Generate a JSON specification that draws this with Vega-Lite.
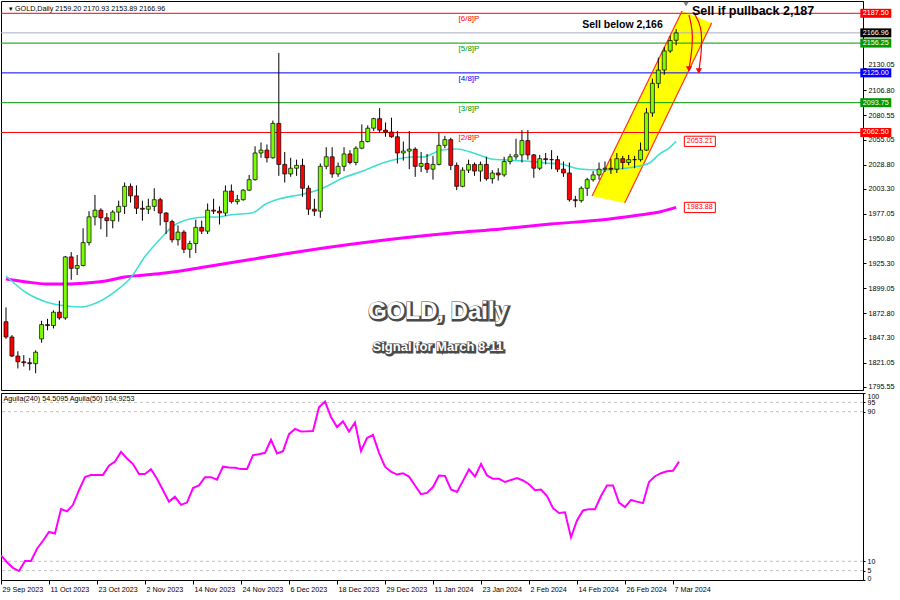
{
"$schema":"https://vega.github.io/schema/vega-lite/v6.json",
"padding":0,
"background":"white",
"spacing":3,
"bounds":"flush",
"config":{"view":{"stroke":"#000000","strokeWidth":1},"font":"Liberation Sans","axis":{"grid":false,"labelOverlap":false}},
"datasets":{
"ohlc":[
{"d":"2023-09-29","t":0,"o":1864,"h":1879,"l":1846,"c":1848},
{"d":"2023-10-02","t":1,"o":1848,"h":1850,"l":1827,"c":1828},
{"d":"2023-10-03","t":2,"o":1828,"h":1833,"l":1815,"c":1822},
{"d":"2023-10-04","t":3,"o":1822,"h":1829,"l":1817,"c":1821},
{"d":"2023-10-05","t":4,"o":1821,"h":1826,"l":1813,"c":1820},
{"d":"2023-10-06","t":5,"o":1820,"h":1834,"l":1810,"c":1832},
{"d":"2023-10-09","t":6,"o":1846,"h":1865,"l":1842,"c":1861},
{"d":"2023-10-10","t":7,"o":1861,"h":1867,"l":1855,"c":1860},
{"d":"2023-10-11","t":8,"o":1860,"h":1876,"l":1857,"c":1874},
{"d":"2023-10-12","t":9,"o":1874,"h":1886,"l":1866,"c":1868},
{"d":"2023-10-13","t":10,"o":1868,"h":1933,"l":1866,"c":1932},
{"d":"2023-10-16","t":11,"o":1932,"h":1937,"l":1908,"c":1920},
{"d":"2023-10-17","t":12,"o":1920,"h":1934,"l":1913,"c":1923},
{"d":"2023-10-18","t":13,"o":1923,"h":1962,"l":1922,"c":1947},
{"d":"2023-10-19","t":14,"o":1947,"h":1980,"l":1944,"c":1974},
{"d":"2023-10-20","t":15,"o":1974,"h":1997,"l":1965,"c":1981},
{"d":"2023-10-23","t":16,"o":1981,"h":1983,"l":1961,"c":1973},
{"d":"2023-10-24","t":17,"o":1973,"h":1978,"l":1953,"c":1970},
{"d":"2023-10-25","t":18,"o":1970,"h":1981,"l":1962,"c":1979},
{"d":"2023-10-26","t":19,"o":1979,"h":1991,"l":1969,"c":1985},
{"d":"2023-10-27","t":20,"o":1985,"h":2010,"l":1977,"c":2006},
{"d":"2023-10-30","t":21,"o":2006,"h":2009,"l":1989,"c":1996},
{"d":"2023-10-31","t":22,"o":1996,"h":2007,"l":1977,"c":1983},
{"d":"2023-11-01","t":23,"o":1983,"h":1991,"l":1970,"c":1982},
{"d":"2023-11-02","t":24,"o":1982,"h":1993,"l":1977,"c":1985},
{"d":"2023-11-03","t":25,"o":1985,"h":2004,"l":1980,"c":1992},
{"d":"2023-11-06","t":26,"o":1992,"h":1994,"l":1965,"c":1978},
{"d":"2023-11-07","t":27,"o":1978,"h":1979,"l":1956,"c":1969},
{"d":"2023-11-08","t":28,"o":1969,"h":1971,"l":1947,"c":1950},
{"d":"2023-11-09","t":29,"o":1950,"h":1965,"l":1944,"c":1958},
{"d":"2023-11-10","t":30,"o":1958,"h":1960,"l":1936,"c":1940},
{"d":"2023-11-13","t":31,"o":1940,"h":1949,"l":1931,"c":1946},
{"d":"2023-11-14","t":32,"o":1946,"h":1971,"l":1936,"c":1963},
{"d":"2023-11-15","t":33,"o":1963,"h":1970,"l":1956,"c":1959},
{"d":"2023-11-16","t":34,"o":1959,"h":1988,"l":1956,"c":1981},
{"d":"2023-11-17","t":35,"o":1981,"h":1993,"l":1977,"c":1980},
{"d":"2023-11-20","t":36,"o":1980,"h":1985,"l":1966,"c":1978},
{"d":"2023-11-21","t":37,"o":1978,"h":2007,"l":1975,"c":2001},
{"d":"2023-11-22","t":38,"o":2001,"h":2008,"l":1988,"c":1990},
{"d":"2023-11-23","t":39,"o":1990,"h":1997,"l":1987,"c":1992},
{"d":"2023-11-24","t":40,"o":1992,"h":2003,"l":1991,"c":2002},
{"d":"2023-11-27","t":41,"o":2002,"h":2018,"l":2001,"c":2013},
{"d":"2023-11-28","t":42,"o":2013,"h":2048,"l":2012,"c":2041},
{"d":"2023-11-29","t":43,"o":2041,"h":2052,"l":2036,"c":2044},
{"d":"2023-11-30","t":44,"o":2044,"h":2050,"l":2031,"c":2036},
{"d":"2023-12-01","t":45,"o":2036,"h":2075,"l":2035,"c":2072},
{"d":"2023-12-04","t":46,"o":2072,"h":2146,"l":2017,"c":2029},
{"d":"2023-12-05","t":47,"o":2029,"h":2042,"l":2010,"c":2019},
{"d":"2023-12-06","t":48,"o":2019,"h":2036,"l":2016,"c":2025},
{"d":"2023-12-07","t":49,"o":2025,"h":2034,"l":2017,"c":2028},
{"d":"2023-12-08","t":50,"o":2028,"h":2035,"l":1995,"c":2004},
{"d":"2023-12-11","t":51,"o":2004,"h":2007,"l":1976,"c":1982},
{"d":"2023-12-12","t":52,"o":1982,"h":1993,"l":1975,"c":1980},
{"d":"2023-12-13","t":53,"o":1980,"h":2030,"l":1973,"c":2027},
{"d":"2023-12-14","t":54,"o":2027,"h":2047,"l":2024,"c":2037},
{"d":"2023-12-15","t":55,"o":2037,"h":2047,"l":2015,"c":2019},
{"d":"2023-12-18","t":56,"o":2019,"h":2031,"l":2016,"c":2027},
{"d":"2023-12-19","t":57,"o":2027,"h":2047,"l":2022,"c":2040},
{"d":"2023-12-20","t":58,"o":2040,"h":2044,"l":2029,"c":2031},
{"d":"2023-12-21","t":59,"o":2031,"h":2048,"l":2028,"c":2046},
{"d":"2023-12-22","t":60,"o":2046,"h":2071,"l":2045,"c":2053},
{"d":"2023-12-26","t":61,"o":2053,"h":2070,"l":2052,"c":2067},
{"d":"2023-12-27","t":62,"o":2067,"h":2078,"l":2064,"c":2077},
{"d":"2023-12-28","t":63,"o":2077,"h":2088,"l":2062,"c":2065},
{"d":"2023-12-29","t":64,"o":2065,"h":2073,"l":2058,"c":2063},
{"d":"2024-01-02","t":65,"o":2063,"h":2078,"l":2057,"c":2058},
{"d":"2024-01-03","t":66,"o":2058,"h":2064,"l":2030,"c":2041},
{"d":"2024-01-04","t":67,"o":2041,"h":2053,"l":2033,"c":2043},
{"d":"2024-01-05","t":68,"o":2043,"h":2064,"l":2024,"c":2045},
{"d":"2024-01-08","t":69,"o":2045,"h":2047,"l":2016,"c":2027},
{"d":"2024-01-09","t":70,"o":2027,"h":2042,"l":2021,"c":2030},
{"d":"2024-01-10","t":71,"o":2030,"h":2040,"l":2020,"c":2024},
{"d":"2024-01-11","t":72,"o":2024,"h":2038,"l":2013,"c":2029},
{"d":"2024-01-12","t":73,"o":2029,"h":2062,"l":2028,"c":2049},
{"d":"2024-01-15","t":74,"o":2049,"h":2059,"l":2046,"c":2055},
{"d":"2024-01-16","t":75,"o":2055,"h":2057,"l":2023,"c":2028},
{"d":"2024-01-17","t":76,"o":2028,"h":2031,"l":2002,"c":2006},
{"d":"2024-01-18","t":77,"o":2006,"h":2026,"l":2005,"c":2023},
{"d":"2024-01-19","t":78,"o":2023,"h":2034,"l":2020,"c":2029},
{"d":"2024-01-22","t":79,"o":2029,"h":2031,"l":2017,"c":2022},
{"d":"2024-01-23","t":80,"o":2022,"h":2032,"l":2011,"c":2029},
{"d":"2024-01-24","t":81,"o":2029,"h":2037,"l":2012,"c":2014},
{"d":"2024-01-25","t":82,"o":2014,"h":2023,"l":2009,"c":2020},
{"d":"2024-01-26","t":83,"o":2020,"h":2025,"l":2012,"c":2018},
{"d":"2024-01-29","t":84,"o":2018,"h":2037,"l":2016,"c":2032},
{"d":"2024-01-30","t":85,"o":2032,"h":2040,"l":2029,"c":2037},
{"d":"2024-01-31","t":86,"o":2037,"h":2056,"l":2034,"c":2039},
{"d":"2024-02-01","t":87,"o":2039,"h":2065,"l":2031,"c":2054},
{"d":"2024-02-02","t":88,"o":2054,"h":2065,"l":2034,"c":2039},
{"d":"2024-02-05","t":89,"o":2039,"h":2040,"l":2015,"c":2025},
{"d":"2024-02-06","t":90,"o":2025,"h":2039,"l":2023,"c":2035},
{"d":"2024-02-07","t":91,"o":2035,"h":2041,"l":2029,"c":2034},
{"d":"2024-02-08","t":92,"o":2034,"h":2044,"l":2024,"c":2034},
{"d":"2024-02-09","t":93,"o":2034,"h":2038,"l":2021,"c":2024},
{"d":"2024-02-12","t":94,"o":2024,"h":2032,"l":2016,"c":2020},
{"d":"2024-02-13","t":95,"o":2020,"h":2031,"l":1990,"c":1992},
{"d":"2024-02-14","t":96,"o":1992,"h":1996,"l":1984,"c":1991},
{"d":"2024-02-15","t":97,"o":1991,"h":2006,"l":1989,"c":2004},
{"d":"2024-02-16","t":98,"o":2004,"h":2015,"l":1996,"c":2013},
{"d":"2024-02-19","t":99,"o":2013,"h":2022,"l":2011,"c":2018},
{"d":"2024-02-20","t":100,"o":2018,"h":2031,"l":2013,"c":2024},
{"d":"2024-02-21","t":101,"o":2024,"h":2032,"l":2021,"c":2025},
{"d":"2024-02-22","t":102,"o":2025,"h":2035,"l":2019,"c":2024},
{"d":"2024-02-23","t":103,"o":2024,"h":2041,"l":2020,"c":2035},
{"d":"2024-02-26","t":104,"o":2035,"h":2038,"l":2024,"c":2031},
{"d":"2024-02-27","t":105,"o":2031,"h":2039,"l":2028,"c":2034},
{"d":"2024-02-28","t":106,"o":2034,"h":2038,"l":2025,"c":2034},
{"d":"2024-02-29","t":107,"o":2034,"h":2052,"l":2032,"c":2044},
{"d":"2024-03-01","t":108,"o":2044,"h":2088,"l":2043,"c":2083},
{"d":"2024-03-04","t":109,"o":2083,"h":2119,"l":2079,"c":2114},
{"d":"2024-03-05","t":110,"o":2114,"h":2141,"l":2109,"c":2128},
{"d":"2024-03-06","t":111,"o":2128,"h":2152,"l":2123,"c":2148},
{"d":"2024-03-07","t":112,"o":2148,"h":2164,"l":2146,"c":2159},
{"d":"2024-03-08","t":113,"o":2159.2,"h":2170.93,"l":2153.89,"c":2166.96}
],
"ma20":[{"t":0,"p":1912.0},{"t":3.5,"p":1894.1},{"t":6.8,"p":1884.7},{"t":10.2,"p":1880.5},{"t":12.7,"p":1879.5},{"t":15.2,"p":1883.7},{"t":18.5,"p":1896.2},{"t":21,"p":1909.9},{"t":23.5,"p":1932.9},{"t":26,"p":1950.8},{"t":28.2,"p":1964.4},{"t":31,"p":1971.8},{"t":33.8,"p":1973.9},{"t":36,"p":1973.9},{"t":37.7,"p":1976.0},{"t":41.5,"p":1978.1},{"t":43.8,"p":1987.5},{"t":46,"p":1992.7},{"t":50.2,"p":1998.0},{"t":53.5,"p":2004.3},{"t":56.8,"p":2014.8},{"t":60.2,"p":2022.1},{"t":63.5,"p":2030.5},{"t":66,"p":2034.7},{"t":68.5,"p":2036.8},{"t":70.2,"p":2036.8},{"t":73.5,"p":2044.1},{"t":76,"p":2045.2},{"t":79.3,"p":2039.9},{"t":81.8,"p":2034.7},{"t":84.3,"p":2033.6},{"t":87.7,"p":2032.6},{"t":91,"p":2030.5},{"t":93.5,"p":2029.4},{"t":96.8,"p":2024.2},{"t":100.2,"p":2023.2},{"t":103.5,"p":2024.2},{"t":106.8,"p":2027.3},{"t":108.5,"p":2030.5},{"t":110.2,"p":2039.9},{"t":111.8,"p":2046.2},{"t":113,"p":2053.2}],
"ma200":[{"t":0,"p":1908.8},{"t":3.5,"p":1905.7},{"t":6.8,"p":1903.6},{"t":10,"p":1903.6},{"t":13.5,"p":1904.6},{"t":16.8,"p":1906.7},{"t":20,"p":1910.9},{"t":23.5,"p":1913.0},{"t":26.8,"p":1915.1},{"t":33.5,"p":1921.4},{"t":41.8,"p":1929.8},{"t":50.2,"p":1938.2},{"t":58.5,"p":1945.5},{"t":66.8,"p":1951.8},{"t":75.2,"p":1957.1},{"t":83.5,"p":1961.3},{"t":91.8,"p":1966.5},{"t":100.2,"p":1970.7},{"t":106.8,"p":1976.0},{"t":110.2,"p":1979.1},{"t":113,"p":1983.9}],
"osc":[{"t":0,"v":13.2},{"t":1,"v":9.5},{"t":2,"v":6.5},{"t":3,"v":4.8},{"t":4,"v":10.2},{"t":5,"v":10.2},{"t":6,"v":16.7},{"t":7,"v":21.0},{"t":8,"v":25.7},{"t":9,"v":24.9},{"t":10,"v":37.9},{"t":11,"v":36.7},{"t":12,"v":40.2},{"t":13,"v":48.0},{"t":14,"v":55.0},{"t":15,"v":56.2},{"t":16,"v":56.2},{"t":17,"v":56.2},{"t":18,"v":61.1},{"t":19,"v":63.3},{"t":20,"v":68.5},{"t":21,"v":65.0},{"t":22,"v":62.0},{"t":23,"v":56.7},{"t":24,"v":56.7},{"t":25,"v":59.2},{"t":26,"v":54.1},{"t":27,"v":48.0},{"t":28,"v":41.9},{"t":29,"v":44.5},{"t":30,"v":40.2},{"t":31,"v":41.4},{"t":32,"v":49.2},{"t":33,"v":50.6},{"t":34,"v":55.0},{"t":35,"v":55.0},{"t":36,"v":53.6},{"t":37,"v":60.6},{"t":38,"v":60.2},{"t":39,"v":60.0},{"t":40,"v":59.3},{"t":41,"v":59.3},{"t":42,"v":66.8},{"t":43,"v":67.2},{"t":44,"v":68.0},{"t":45,"v":75.0},{"t":46,"v":67.7},{"t":47,"v":68.9},{"t":48,"v":78.0},{"t":49,"v":80.8},{"t":50,"v":79.4},{"t":51,"v":79.5},{"t":52,"v":79.7},{"t":53,"v":92.4},{"t":54,"v":95.4},{"t":55,"v":87.2},{"t":56,"v":81.8},{"t":57,"v":84.9},{"t":58,"v":79.4},{"t":59,"v":84.2},{"t":60,"v":68.9},{"t":61,"v":75.9},{"t":62,"v":77.6},{"t":63,"v":68.0},{"t":64,"v":60.6},{"t":65,"v":57.9},{"t":66,"v":56.4},{"t":67,"v":57.1},{"t":68,"v":55.3},{"t":69,"v":50.5},{"t":70,"v":45.9},{"t":71,"v":46.6},{"t":72,"v":49.7},{"t":73,"v":55.9},{"t":74,"v":55.7},{"t":75,"v":48.4},{"t":76,"v":47.1},{"t":77,"v":53.0},{"t":78,"v":59.2},{"t":79,"v":55.3},{"t":80,"v":62.0},{"t":81,"v":55.9},{"t":82,"v":54.1},{"t":83,"v":54.1},{"t":84,"v":52.4},{"t":85,"v":53.5},{"t":86,"v":54.5},{"t":87,"v":53.2},{"t":88,"v":51.2},{"t":89,"v":48.0},{"t":90,"v":48.4},{"t":91,"v":44.9},{"t":92,"v":38.4},{"t":93,"v":35.8},{"t":94,"v":36.2},{"t":95,"v":22.8},{"t":96,"v":31.8},{"t":97,"v":37.2},{"t":98,"v":37.9},{"t":99,"v":37.9},{"t":100,"v":44.9},{"t":101,"v":50.6},{"t":102,"v":50.6},{"t":103,"v":41.4},{"t":104,"v":39.0},{"t":105,"v":42.8},{"t":106,"v":41.9},{"t":107,"v":41.1},{"t":108,"v":52.4},{"t":109,"v":55.5},{"t":110,"v":57.1},{"t":111,"v":58.1},{"t":112,"v":58.4},{"t":113,"v":63.3}],
"levels":[
{"p":2187.5,"lab":"[6/8]P","box":"2187.50","lk":"red","bk":"red"},
{"p":2166.96,"lab":"","box":"2166.96","lk":"grey","bk":"black"},
{"p":2156.25,"lab":"[5/8]P","box":"2156.25","lk":"green","bk":"green"},
{"p":2125.0,"lab":"[4/8]P","box":"2125.00","lk":"blue","bk":"blue"},
{"p":2093.75,"lab":"[3/8]P","box":"2093.75","lk":"green","bk":"green"},
{"p":2062.5,"lab":"[2/8]P","box":"2062.50","lk":"red","bk":"red"}
],
"channel":[{"t":98.83,"top":1995.9,"bot":1995.9},{"t":104.33,"top":2066.3,"bot":1988.5},{"t":114.0,"top":2189.9,"bot":2112.9},{"t":119.0,"top":2177.3,"bot":2177.3}],
"chlines":[{"a":"L","t":98.83,"p":1995.9},{"a":"L","t":114.0,"p":2189.9},{"a":"R","t":104.33,"p":1988.5},{"a":"R","t":119.0,"p":2177.3}],
"arrows":[{"a":1,"k":1,"t":115.17,"p":2185.7},{"a":1,"k":2,"t":115.83,"p":2169.0},{"a":1,"k":3,"t":115.67,"p":2148.0},{"a":1,"k":4,"t":115.17,"p":2129.1},{"a":2,"k":1,"t":116.0,"p":2187.8},{"a":2,"k":2,"t":117.33,"p":2174.2},{"a":2,"k":3,"t":117.33,"p":2148.0},{"a":2,"k":4,"t":116.83,"p":2127.0}],
"malabels":[{"p":2053.21,"txt":"2053.21"},{"p":1983.88,"txt":"1983.88"}]
},
"vconcat":[
{
"width":862,"height":389,
"layer":[
{"data":{"name":"channel"},"mark":{"type":"area","color":"#FFFF00","clip":true},
 "encoding":{"x":{"field":"t","type":"quantitative","scale":{"domain":[0,143.667],"nice":false,"zero":false},"axis":null},
  "y":{"field":"top","type":"quantitative","scale":{"domain":[1792.4,2200.4],"nice":false,"zero":false},
   "axis":{"orient":"right","values":[1795.55,1821.05,1847.3,1872.8,1899.05,1925.3,1950.8,1977.05,2003.3,2028.8,2055.05,2080.55,2106.8,2130.05],"tickCount":100,"format":".2f","title":null,"tickSize":3,"labelPadding":2,"labelFontSize":7.2,"labelFont":"Liberation Sans","labelColor":"#000","domainColor":"#000","tickColor":"#000","grid":false,"labelOverlap":false,"labelBound":false,"labelFlush":false,
    "labelOffset":{"condition":{"test":"datum.value > 2129","value":-4},"value":0}}},
  "y2":{"field":"bot"}}},
{"data":{"name":"levels"},"mark":{"type":"rule","strokeWidth":1},
 "encoding":{"y":{"field":"p","type":"quantitative"},
  "color":{"field":"lk","type":"nominal","scale":{"domain":["red","green","blue","black","grey"],"range":["#FF0000","#009900","#0000FF","#000000","#A8AEC0"]},"legend":null}}},
{"data":{"name":"chlines"},"mark":{"type":"line","color":"#FF3020","strokeWidth":1.2,"clip":true},
 "encoding":{"x":{"field":"t","type":"quantitative","axis":null},"y":{"field":"p","type":"quantitative"},"detail":{"field":"a"}}},
{"data":{"name":"ma200"},"mark":{"type":"line","color":"#FF00FF","strokeWidth":3,"clip":true,"interpolate":"monotone"},
 "encoding":{"x":{"field":"t","type":"quantitative","axis":null},"y":{"field":"p","type":"quantitative"}}},
{"data":{"name":"ma20"},"mark":{"type":"line","color":"#40E0D0","strokeWidth":1.6,"clip":true,"interpolate":"monotone"},
 "encoding":{"x":{"field":"t","type":"quantitative","axis":null},"y":{"field":"p","type":"quantitative"}}},
{"data":{"name":"ohlc"},"mark":{"type":"rule","color":"#000000","strokeWidth":1,"clip":true},
 "encoding":{"x":{"field":"t","type":"quantitative","axis":null},"y":{"field":"l","type":"quantitative"},"y2":{"field":"h"}}},
{"data":{"name":"ohlc"},"mark":{"type":"bar","size":4,"stroke":"#000000","strokeWidth":0.7,"clip":true},
 "encoding":{"x":{"field":"t","type":"quantitative","axis":null},"y":{"field":"o","type":"quantitative"},"y2":{"field":"c"},
  "fill":{"condition":{"test":"datum.c >= datum.o","value":"#7CFC00"},"value":"#FF0000"}}},
{"data":{"name":"levels"},"mark":{"type":"text","align":"left","baseline":"middle","dy":6,"fontSize":8,"font":"Liberation Sans"},
 "encoding":{"x":{"datum":76.3,"axis":null},"y":{"field":"p","type":"quantitative"},"text":{"field":"lab"},
  "color":{"field":"lk","type":"nominal","scale":{"domain":["red","green","blue","black","grey"],"range":["#FF0000","#009900","#0000FF","#000000","#A8AEC0"]},"legend":null}}},
{"data":{"name":"arrows"},"mark":{"type":"line","color":"#FF0000","strokeWidth":1.2,"interpolate":"basis"},
 "encoding":{"x":{"field":"t","type":"quantitative","axis":null},"y":{"field":"p","type":"quantitative"},"detail":{"field":"a"},"order":{"field":"k","type":"quantitative"}}},
{"data":{"name":"arrows"},"transform":[{"filter":"datum.k == 4"}],"mark":{"type":"point","shape":"triangle-down","filled":true,"color":"#FF0000","size":40,"opacity":1},
 "encoding":{"x":{"field":"t","type":"quantitative","axis":null},"y":{"field":"p","type":"quantitative"}}},
{"data":{"values":[{"t":97.17,"p":2175.2,"txt":"Sell below 2,166"}]},"mark":{"type":"text","align":"left","baseline":"middle","fontSize":10.5,"fontWeight":"bold","color":"#000000","font":"Liberation Sans"},
 "encoding":{"x":{"field":"t","type":"quantitative","axis":null},"y":{"field":"p","type":"quantitative"},"text":{"field":"txt"}}},
{"data":{"values":[{"t":115.67,"p":2190.0,"txt":"Sell if pullback 2,187"}]},"mark":{"type":"text","align":"left","baseline":"middle","fontSize":12.5,"fontWeight":"bold","color":"#000000","font":"Liberation Sans"},
 "encoding":{"x":{"field":"t","type":"quantitative","axis":null},"y":{"field":"p","type":"quantitative"},"text":{"field":"txt"}}},
{"data":{"values":[{"t":72.83,"p":1874.2,"txt":"GOLD, Daily","fs":"big"},{"t":72.83,"p":1837.5,"txt":"Signal for March 8-11","fs":"small"}]},
 "mark":{"type":"text","align":"center","baseline":"middle","fontWeight":"bold","color":"#4A4A4A","stroke":"#4A4A4A","strokeWidth":3,"dx":1,"dy":1,"font":"Liberation Sans"},
 "encoding":{"x":{"field":"t","type":"quantitative","axis":null},"y":{"field":"p","type":"quantitative"},"text":{"field":"txt"},
  "size":{"field":"fs","type":"nominal","scale":{"domain":["big","small"],"range":[24,13]},"legend":null}}},
{"data":{"values":[{"t":72.83,"p":1874.2,"txt":"GOLD, Daily","fs":"big"},{"t":72.83,"p":1837.5,"txt":"Signal for March 8-11","fs":"small"}]},
 "mark":{"type":"text","align":"center","baseline":"middle","fontWeight":"bold","color":"#FFFFFF","font":"Liberation Sans"},
 "encoding":{"x":{"field":"t","type":"quantitative","axis":null},"y":{"field":"p","type":"quantitative"},"text":{"field":"txt"},
  "size":{"field":"fs","type":"nominal","scale":{"domain":["big","small"],"range":[24,13]},"legend":null}}},
{"data":{"name":"levels"},"mark":{"type":"point","shape":"M-1,-0.29L1,-0.29L1,0.29L-1,0.29Z","filled":true,"size":961,"opacity":1,"strokeWidth":0},
 "encoding":{"x":{"datum":146.67,"axis":null},"y":{"field":"p","type":"quantitative"},
  "color":{"field":"bk","type":"nominal","scale":{"domain":["red","green","blue","black","grey"],"range":["#FF0000","#009900","#0000FF","#000000","#A8AEC0"]},"legend":null}}},
{"data":{"name":"levels"},"mark":{"type":"text","align":"center","baseline":"middle","fontSize":7.2,"color":"#FFFFFF","font":"Liberation Sans"},
 "encoding":{"x":{"datum":146.67,"axis":null},"y":{"field":"p","type":"quantitative"},"text":{"field":"box"}}},
{"data":{"name":"malabels"},"mark":{"type":"point","shape":"M-1,-0.33L1,-0.33L1,0.33L-1,0.33Z","filled":true,"fill":"#FFFFFF","stroke":"#FF0000","strokeWidth":1,"size":961,"opacity":1},
 "encoding":{"x":{"datum":117.0,"axis":null},"y":{"field":"p","type":"quantitative"}}},
{"data":{"name":"malabels"},"mark":{"type":"text","align":"center","baseline":"middle","fontSize":7.2,"color":"#FF0000","font":"Liberation Sans"},
 "encoding":{"x":{"datum":117.0,"axis":null},"y":{"field":"p","type":"quantitative"},"text":{"field":"txt"}}},
{"data":{"values":[{"t":0.5,"p":2192.0,"txt":"\u25BE GOLD,Daily  2159.20 2170.93 2153.89 2166.96"}]},"mark":{"type":"text","align":"left","baseline":"middle","fontSize":7.2,"color":"#000000","font":"Liberation Sans"},
 "encoding":{"x":{"field":"t","type":"quantitative","axis":null},"y":{"field":"p","type":"quantitative"},"text":{"field":"txt"}}},
{"data":{"values":[{"t":114.67,"p":2197.0}]},"mark":{"type":"point","shape":"triangle-down","filled":true,"color":"#808080","size":30,"opacity":1},
 "encoding":{"x":{"field":"t","type":"quantitative","axis":null},"y":{"field":"p","type":"quantitative"}}}
]
},
{
"width":862,"height":187,
"layer":[
{"data":{"values":[{"v":95},{"v":90},{"v":10},{"v":5}]},"mark":{"type":"rule","color":"#C0C0C0","strokeDash":[3,3],"strokeWidth":1},
 "encoding":{"y":{"field":"v","type":"quantitative","scale":{"domain":[0,100],"nice":false,"zero":false}}}},
{"data":{"name":"osc"},"mark":{"type":"line","color":"#FF00FF","strokeWidth":2,"clip":true},
 "encoding":{
  "x":{"field":"t","type":"quantitative","scale":{"domain":[0,143.667],"nice":false,"zero":false},
   "axis":{"orient":"bottom","values":[0,8,16,24,32,40,48,56,64,72,80,88,96,104,112],"tickCount":100,"labelExpr":"['29 Sep 2023','11 Oct 2023','23 Oct 2023','2 Nov 2023','14 Nov 2023','24 Nov 2023','6 Dec 2023','18 Dec 2023','29 Dec 2023','11 Jan 2024','23 Jan 2024','2 Feb 2024','14 Feb 2024','26 Feb 2024','7 Mar 2024'][round(datum.value/8)]","title":null,"tickSize":4,"labelAlign":"left","labelBaseline":"top","labelPadding":1,"labelOffset":1,"labelFont":"Liberation Sans","labelFontSize":7.2,"labelColor":"#000","domainColor":"#000","tickColor":"#000","labelOverlap":false,"labelFlush":false,"labelBound":false,"grid":false}},
  "y":{"field":"v","type":"quantitative","scale":{"domain":[0,100],"nice":false,"zero":false},
   "axis":{"orient":"right","values":[0,5,10,90,95,100],"tickCount":100,"title":null,"tickSize":2,"labelPadding":2,"labelFont":"Liberation Sans","labelFontSize":7,"labelColor":"#000","domainColor":"#000","tickColor":"#000","labelOverlap":false,"labelBound":false,"labelFlush":false,"grid":false,
    "labelOffset":{"condition":[{"test":"datum.value == 100","value":3},{"test":"datum.value == 0","value":-2}],"value":0}}}}},
{"data":{"values":[{"t":0.4,"v":97.0,"txt":"Aguila(240) 54.5095  Aguila(50) 104.9253"}]},"mark":{"type":"text","align":"left","baseline":"middle","fontSize":7.2,"color":"#000000","font":"Liberation Sans"},
 "encoding":{"x":{"field":"t","type":"quantitative"},"y":{"field":"v","type":"quantitative"},"text":{"field":"txt"}}}
]
}
]
}
